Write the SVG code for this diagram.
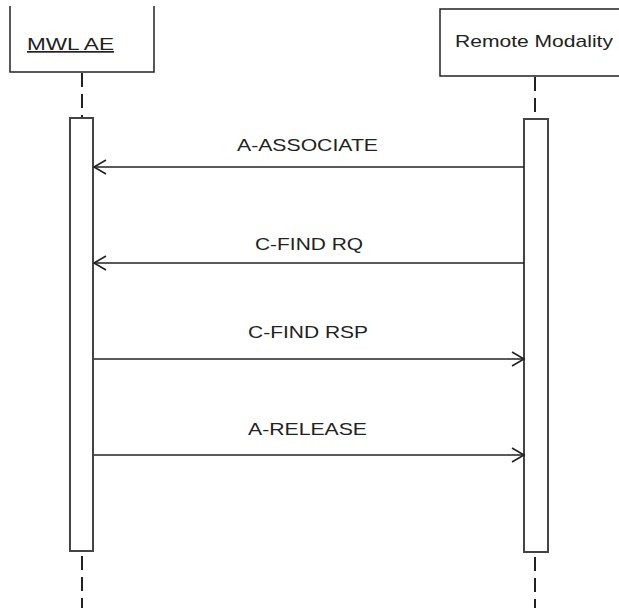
<svg xmlns="http://www.w3.org/2000/svg" width="619" height="608" viewBox="0 0 619 608">
<style>
.box{fill:#fff;stroke:#222;stroke-width:1.5}
.act{fill:#fff;stroke:#444;stroke-width:2}
.life{stroke:#222;stroke-width:2;stroke-dasharray:14 7;fill:none}
.msg{stroke:#222;stroke-width:1.6;fill:none}
.lbl{font-family:"Liberation Sans",Arial,sans-serif;font-size:17px;fill:#222}
</style>
<defs>
<marker id="arr" markerWidth="16" markerHeight="16" refX="13" refY="8" orient="auto" markerUnits="userSpaceOnUse">
<path d="M1,1 L13,8 L1,15" fill="none" stroke="#222" stroke-width="1.6"/>
</marker>
</defs>
<rect width="619" height="608" fill="#fff"/>
<g id="mwl-ae">
<path class="box" d="M10,6 V72 H154 V6"/>
<text class="lbl" x="27" y="50" font-size="19" textLength="87" lengthAdjust="spacingAndGlyphs" text-decoration="underline">MWL AE</text>
<line class="life" x1="82" y1="73" x2="82" y2="117"/>
<rect class="act" x="70" y="118" width="23" height="433"/>
<line class="life" x1="82" y1="552" x2="82" y2="608" stroke-dashoffset="-4"/>
</g>
<g id="remote-modality">
<rect class="box" x="440" y="9" width="190" height="67"/>
<text class="lbl" x="455" y="47" font-size="18" textLength="158" lengthAdjust="spacingAndGlyphs">Remote Modality</text>
<line class="life" x1="535" y1="77" x2="535" y2="119"/>
<rect class="act" x="524" y="119" width="24" height="433"/>
<line class="life" x1="535" y1="553" x2="535" y2="608" stroke-dashoffset="-4"/>
</g>
<g id="connectors">
<line class="msg" x1="524" y1="167" x2="94" y2="167" marker-end="url(#arr)"/>
<text class="lbl" x="237" y="151" textLength="141" lengthAdjust="spacingAndGlyphs">A-ASSOCIATE</text>
<line class="msg" x1="524" y1="263" x2="94" y2="263" marker-end="url(#arr)"/>
<text class="lbl" x="255" y="250" textLength="108" lengthAdjust="spacingAndGlyphs">C-FIND RQ</text>
<line class="msg" x1="94" y1="359" x2="524" y2="359" marker-end="url(#arr)"/>
<text class="lbl" x="248" y="338" textLength="120" lengthAdjust="spacingAndGlyphs">C-FIND RSP</text>
<line class="msg" x1="94" y1="455" x2="524" y2="455" marker-end="url(#arr)"/>
<text class="lbl" x="248" y="435" textLength="119" lengthAdjust="spacingAndGlyphs">A-RELEASE</text>
</g>
</svg>
